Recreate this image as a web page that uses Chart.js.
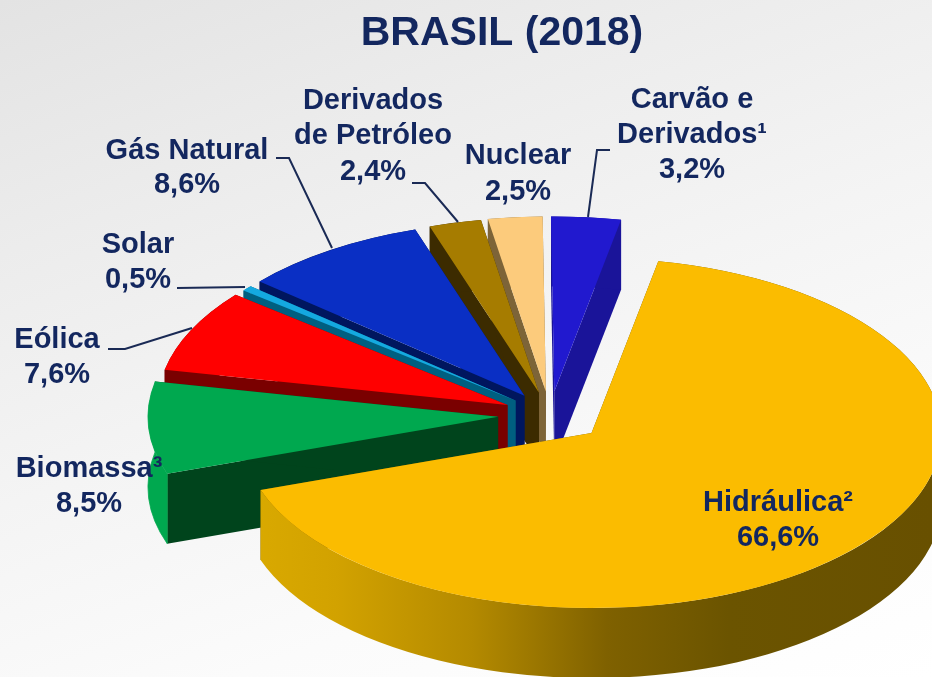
<!DOCTYPE html>
<html lang="pt">
<head>
<meta charset="utf-8">
<title>BRASIL (2018)</title>
<script src="https://cdn.jsdelivr.net/npm/chart.js@4/dist/chart.umd.min.js"></script>
<style>
html,body{margin:0;padding:0;width:932px;height:677px;overflow:hidden;background:linear-gradient(160deg,#e3e3e3 0%,#ececec 25%,#f4f4f4 50%,#fbfbfb 75%,#ffffff 100%);}
canvas{display:block;}
</style>
</head>
<body>
<canvas id="c" width="932" height="677"></canvas>
<script>
const chartTitle = 'BRASIL (2018)';
const categories = ['Hidráulica²','Biomassa³','Eólica','Solar','Gás Natural','Derivados de Petróleo','Nuclear','Carvão e Derivados¹'];
const shares = [66.6, 8.5, 7.6, 0.5, 8.6, 2.4, 2.5, 3.2];
const nameLines = [['Hidráulica²'],['Biomassa³'],['Eólica'],['Solar'],['Gás Natural'],['Derivados','de Petróleo'],['Nuclear'],['Carvão e','Derivados¹']];

const topColors  = ['#fbbc00','#00a84f','#ff0000','#14a9e0','#0a2fc4','#a67c00','#fccb7c','#2119cf'];
const cutColors  = ['#6b5200','#00441c','#7a0000','#005f80','#00165e','#3c2b00','#7d6438','#1a1499'];
const rimColors  = [null,'#00a84f','#7a0000','#005f80','#00165e','#3c2b00','#7d6438','#1a1499'];
const explodePx  = [55,52,47,45,46,46,47,47];

const DEPTH = 70, TILT = 0.5, CX = 550, CY = 415;
const NAVY = '#13275f';

const labelPlacement = [
  {x:778, base:[511,546]},
  {x:89,  base:[477,512]},
  {x:57,  base:[348,383]},
  {x:138, base:[253,288]},
  {x:187, base:[159,193]},
  {x:373, base:[109,144,180]},
  {x:518, base:[164,200]},
  {x:692, base:[108,143,178]}
];
const leaders = [
  [[276,158],[289,158],[332,248]],
  [[412,183],[425,183],[458,222]],
  [[177,288],[245,287]],
  [[108,349],[125,349],[192,328]],
  [[610,150],[597,150],[588,217]]
];

const pie3d = {
  id:'pie3d',
  beforeDatasetsDraw(chart){
    const ctx = chart.ctx;
    const arcs = chart.getDatasetMeta(0).data;
    const drop = DEPTH / TILT;
    ctx.save();
    ctx.translate(CX, CY); ctx.scale(1, TILT); ctx.translate(-CX, -CY);
    const order = arcs.map((_, i) => i).slice(1).reverse().concat(0);
    order.forEach(i => {
      const a = arcs[i];
      const mid = (a.startAngle + a.endAngle) / 2;
      const x = a.x + Math.cos(mid) * explodePx[i];
      const y = a.y + Math.sin(mid) * explodePx[i];
      const r = a.outerRadius;
      const px = t => x + Math.cos(t) * r;
      const py = t => y + Math.sin(t) * r;
      ctx.fillStyle = cutColors[i];
      [a.startAngle, a.endAngle].forEach(t => {
        ctx.beginPath();
        ctx.moveTo(x, y); ctx.lineTo(px(t), py(t));
        ctx.lineTo(px(t), py(t) + drop); ctx.lineTo(x, y + drop);
        ctx.closePath(); ctx.fill();
      });
      let rimFill = rimColors[i];
      if (i === 0) {
        const g = ctx.createLinearGradient(255, 0, 932, 0);
        g.addColorStop(0, '#d9a900');
        g.addColorStop(0.12, '#d2a200');
        g.addColorStop(0.32, '#b48a00');
        g.addColorStop(0.52, '#7f6100');
        g.addColorStop(0.7, '#6b5400');
        g.addColorStop(1, '#685000');
        rimFill = g;
      }
      ctx.fillStyle = rimFill;
      ctx.beginPath();
      ctx.arc(x, y, r, a.startAngle, a.endAngle, false);
      ctx.arc(x, y + drop, r, a.endAngle, a.startAngle, true);
      ctx.closePath(); ctx.fill();
      if (i === 1) { ctx.strokeStyle = rimFill; ctx.lineWidth = 1; ctx.stroke(); }
      ctx.save();
      ctx.translate(x - a.x, y - a.y);
      a.draw(ctx);
      ctx.restore();
    });
    ctx.restore();
    return false;
  },
  afterDraw(chart){
    const ctx = chart.ctx;
    ctx.save();
    ctx.textAlign = 'center';
    ctx.textBaseline = 'alphabetic';
    ctx.fillStyle = NAVY;
    ctx.font = 'bold 41px "Liberation Sans", Arial, sans-serif';
    ctx.fillText(chartTitle, 502, 45);
    ctx.font = 'bold 29px "Liberation Sans", Arial, sans-serif';
    categories.forEach((_, i) => {
      const lines = nameLines[i].concat(shares[i].toFixed(1).replace('.', ',') + '%');
      lines.forEach((t, k) => ctx.fillText(t, labelPlacement[i].x, labelPlacement[i].base[k]));
    });
    ctx.strokeStyle = '#1a2a55';
    ctx.lineWidth = 2;
    leaders.forEach(pts => {
      ctx.beginPath();
      pts.forEach((p, k) => k ? ctx.lineTo(p[0], p[1]) : ctx.moveTo(p[0], p[1]));
      ctx.stroke();
    });
    ctx.restore();
  }
};

new Chart(document.getElementById('c'), {
  type:'pie',
  data:{labels:categories, datasets:[{data:shares, backgroundColor:topColors, borderWidth:0, offset:0}]},
  options:{
    responsive:false,
    animation:false,
    rotation:11,
    radius:350,
    layout:{padding:{left:168, top:153, right:0, bottom:0}},
    plugins:{legend:{display:false}, tooltip:{enabled:false}, title:{display:false}}
  },
  plugins:[pie3d]
});
</script>
</body>
</html>
